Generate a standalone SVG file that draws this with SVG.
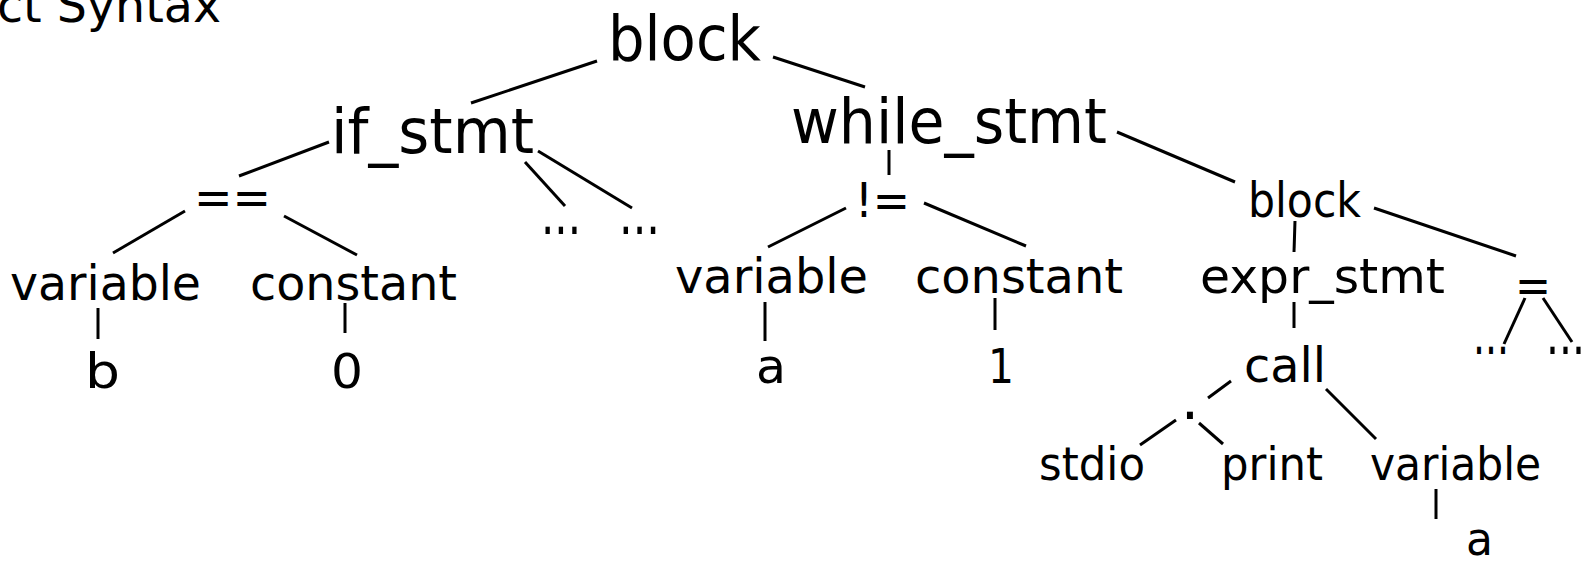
<svg xmlns="http://www.w3.org/2000/svg" width="1592" height="561" viewBox="0 0 1592 561">
<style>
  text { font-family: "DejaVu Sans", Verdana, sans-serif; fill: #000; }
  .big { font-size: 63px; }
  .mid { font-size: 48px; }
  .sm { font-size: 46px; }
  .dots { font-size: 58px; }
  .edge line { stroke: #000; stroke-width: 3; stroke-linecap: butt; }
</style>
<rect width="1592" height="561" fill="#fff"/>
<text class="mid" x="-3" y="22" textLength="224" lengthAdjust="spacingAndGlyphs">ct Syntax</text>
<g id="connectors" class="edge">
  <line x1="471" y1="103" x2="597" y2="61"/>
  <line x1="773" y1="57" x2="865" y2="87"/>
  <line x1="239" y1="176" x2="329" y2="142"/>
  <line x1="525" y1="162" x2="565" y2="206"/>
  <line x1="538" y1="151" x2="632" y2="208"/>
  <line x1="889" y1="150" x2="889" y2="175"/>
  <line x1="1117" y1="132" x2="1235" y2="182"/>
  <line x1="768" y1="247" x2="846" y2="208"/>
  <line x1="924" y1="203" x2="1026" y2="246"/>
  <line x1="113" y1="253" x2="185" y2="211"/>
  <line x1="284" y1="216" x2="357" y2="255"/>
  <line x1="98" y1="308" x2="98" y2="339"/>
  <line x1="345" y1="303" x2="345" y2="333"/>
  <line x1="765" y1="302" x2="765" y2="341"/>
  <line x1="995" y1="298" x2="995" y2="330"/>
  <line x1="1295" y1="221" x2="1294" y2="252"/>
  <line x1="1374" y1="208" x2="1516" y2="256"/>
  <line x1="1294" y1="302" x2="1294" y2="328"/>
  <line x1="1525" y1="298" x2="1504" y2="344"/>
  <line x1="1543" y1="298" x2="1572" y2="342"/>
  <line x1="1231" y1="381" x2="1208" y2="398"/>
  <line x1="1176" y1="420" x2="1140" y2="445"/>
  <line x1="1199" y1="423" x2="1223" y2="444"/>
  <line x1="1326" y1="389" x2="1376" y2="439"/>
  <line x1="1436" y1="489" x2="1436" y2="519"/>
</g>
<g id="n-root"><text class="big" x="608" y="60" textLength="153" lengthAdjust="spacingAndGlyphs">block</text></g>
<g id="n-if"><text class="big" x="331" y="153" font-size="64" textLength="203" lengthAdjust="spacingAndGlyphs">if_stmt</text></g>
<g id="n-while"><text class="big" x="791" y="143" textLength="316" lengthAdjust="spacingAndGlyphs">while_stmt</text></g>
<g id="n-eq"><text class="mid" x="194" y="214" font-size="50" textLength="77" lengthAdjust="spacingAndGlyphs">==</text></g>
<g id="n-dots1"><text class="dots" x="541" y="234" textLength="40" lengthAdjust="spacingAndGlyphs">...</text></g>
<g id="n-dots2"><text class="dots" x="619" y="234" textLength="41" lengthAdjust="spacingAndGlyphs">...</text></g>
<g id="n-ne"><text class="mid" x="855" y="217" textLength="55" lengthAdjust="spacingAndGlyphs">!=</text></g>
<g id="n-block2"><text class="mid" x="1248" y="217" font-size="49" textLength="113" lengthAdjust="spacingAndGlyphs">block</text></g>
<g id="n-var1"><text class="mid" x="10" y="300" textLength="191" lengthAdjust="spacingAndGlyphs">variable</text></g>
<g id="n-const1"><text class="mid" x="250" y="300" textLength="207" lengthAdjust="spacingAndGlyphs">constant</text></g>
<g id="n-var2"><text class="mid" x="675" y="293" textLength="193" lengthAdjust="spacingAndGlyphs">variable</text></g>
<g id="n-const2"><text class="mid" x="915" y="293" textLength="208" lengthAdjust="spacingAndGlyphs">constant</text></g>
<g id="n-expr"><text class="mid" x="1200" y="293" textLength="245" lengthAdjust="spacingAndGlyphs">expr_stmt</text></g>
<g id="n-assign"><text class="mid" x="1515" y="302" textLength="36" lengthAdjust="spacingAndGlyphs">=</text></g>
<g id="n-dots3"><text class="dots" x="1473" y="354" textLength="36" lengthAdjust="spacingAndGlyphs">...</text></g>
<g id="n-dots4"><text class="dots" x="1546" y="354" textLength="39" lengthAdjust="spacingAndGlyphs">...</text></g>
<g id="n-b"><text class="mid" x="85" y="388" textLength="35" lengthAdjust="spacingAndGlyphs">b</text></g>
<g id="n-0"><text class="mid" x="331" y="388" textLength="32" lengthAdjust="spacingAndGlyphs">0</text></g>
<g id="n-a1"><text class="mid" x="756" y="383" textLength="30" lengthAdjust="spacingAndGlyphs">a</text></g>
<g id="n-1"><text class="mid" x="988" y="383" textLength="26" lengthAdjust="spacingAndGlyphs">1</text></g>
<g id="n-call"><text class="mid" x="1244" y="382" font-size="50" textLength="82" lengthAdjust="spacingAndGlyphs">call</text></g>
<g id="n-dot"><text class="dots" x="1190" y="419" text-anchor="middle">.</text></g>
<g id="n-stdio"><text class="sm" x="1039" y="480" textLength="106" lengthAdjust="spacingAndGlyphs">stdio</text></g>
<g id="n-print"><text class="sm" x="1221" y="480" textLength="102" lengthAdjust="spacingAndGlyphs">print</text></g>
<g id="n-var3"><text class="sm" x="1370" y="480" textLength="171" lengthAdjust="spacingAndGlyphs">variable</text></g>
<g id="n-a2"><text class="sm" x="1466" y="555" textLength="27" lengthAdjust="spacingAndGlyphs">a</text></g>
</svg>
